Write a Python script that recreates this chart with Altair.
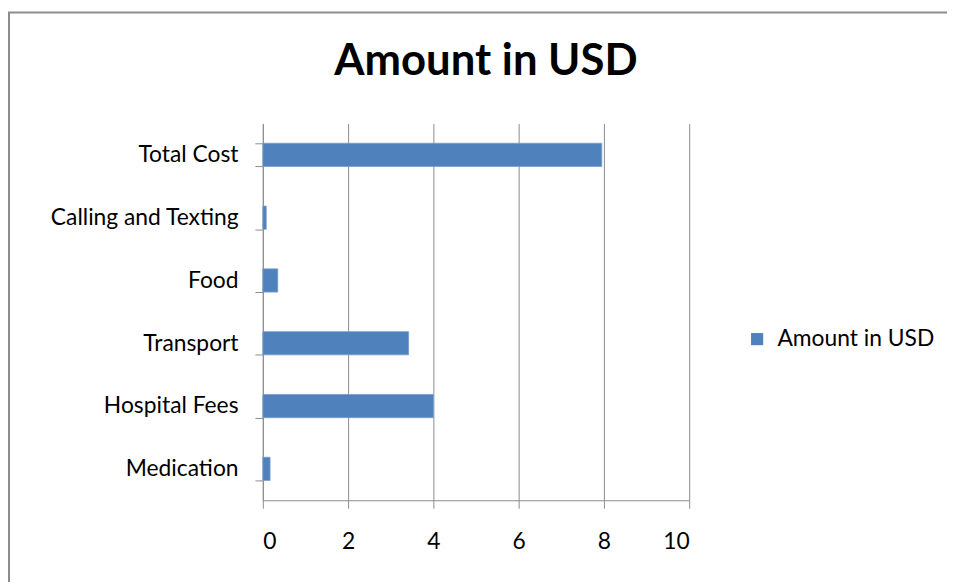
import altair as alt
import pandas as pd

categories = ["Total Cost", "Calling and Texting", "Food", "Transport", "Hospital Fees", "Medication"]
amounts = [7.95, 0.08, 0.35, 3.42, 4.0, 0.17]
series_name = "Amount in USD"
x_ticks = [0, 2, 4, 6, 8, 10]

df = pd.DataFrame({"category": categories, "amount": amounts, "series": [series_name] * len(categories)})

FONT = "Lato"

bars = alt.Chart(df).mark_bar(color="#4F81BD", stroke="#7A9CCB", strokeWidth=0.8).encode(
    x=alt.X("amount:Q",
            scale=alt.Scale(domain=[0, 10], nice=False),
            axis=alt.Axis(values=x_ticks, title=None, grid=True, gridColor="#8c8c8c",
                          gridWidth=1, domainColor="#8c8c8c", tickColor="#8c8c8c",
                          tickSize=8, labelPadding=23, labelFontSize=23,
                          labelColor="#000000", labelFont=FONT)),
    y=alt.Y("category:N", sort=categories,
            scale=alt.Scale(paddingInner=0.63, paddingOuter=0.315),
            axis=alt.Axis(title=None, tickBand="extent", domainColor="#8c8c8c",
                          tickColor="#8c8c8c", tickSize=8, labelPadding=17,
                          labelFontSize=23, labelColor="#000000", labelFont=FONT,
                          labelLimit=400, grid=False)),
    color=alt.Color("series:N",
                    scale=alt.Scale(domain=[series_name], range=["#4F81BD"]),
                    legend=alt.Legend(title=None, orient="none", legendX=487, legendY=206,
                                      symbolType="square", symbolSize=150,
                                      symbolStrokeWidth=0, labelFontSize=23,
                                      labelFont=FONT, labelColor="#000000", labelOffset=9,
                                      labelLimit=400)),
)

border = alt.Chart(pd.DataFrame({"b": [0]})).mark_rect(
    fill=None, stroke="#8c8c8c", strokeWidth=2
).encode(x=alt.value(-256), x2=alt.value(720), y=alt.value(-112), y2=alt.value(480))

chart = alt.layer(border, bars).properties(
    width=430, height=380,
    title=alt.Title("Amount in USD", fontSize=44, fontWeight="bold", font=FONT,
                    color="#000000", anchor="middle", offset=-108, baseline="alphabetic",
                    dx=10),
    autosize=alt.AutoSizeParams(type="none"),
    padding={"left": 257, "top": 114, "right": 260, "bottom": 80},
    view=alt.ViewBackground(stroke="transparent", strokeWidth=0),
).configure_view(stroke="transparent", strokeWidth=0).configure(background="white")

chart.save("out.html", embed_options={"renderer": "svg", "actions": False})
